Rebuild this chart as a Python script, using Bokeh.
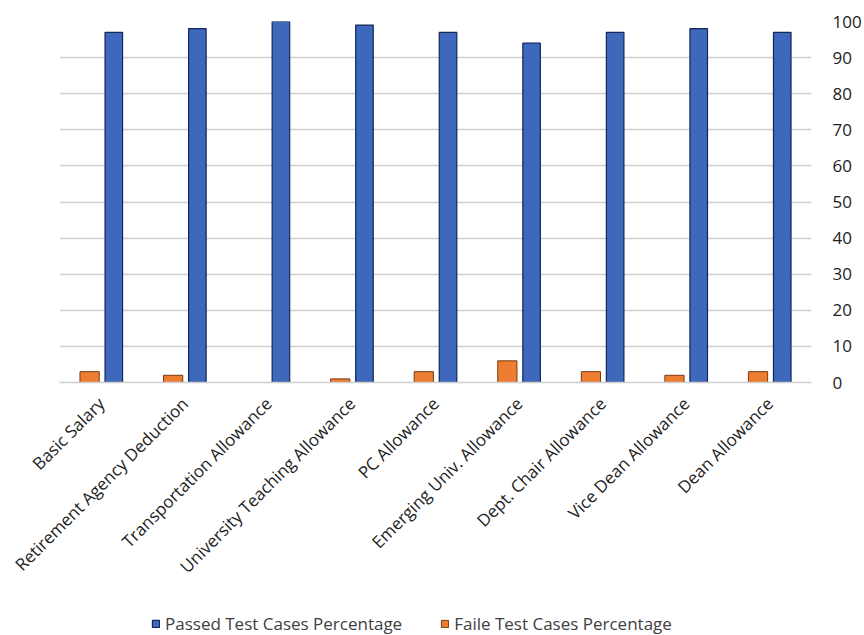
from bokeh.plotting import figure
from bokeh.layouts import column
from bokeh.models import ColumnDataSource, FactorRange, Range1d, Legend, LegendItem, FixedTicker
from bokeh.transform import dodge
from bokeh.embed import file_html
from bokeh.resources import INLINE
import math

categories = ["Basic Salary", "Retirement Agency Deduction", "Transportation Allowance",
              "University Teaching Allowance", "PC Allowance", "Emerging Univ. Allowance",
              "Dept. Chair Allowance", "Vice Dean Allowance", "Dean Allowance"]
passed = [97, 98, 100, 99, 97, 94, 97, 98, 97]
failed = [3, 2, 0, 1, 3, 6, 3, 2, 3]
y_ticks = [0, 10, 20, 30, 40, 50, 60, 70, 80, 90, 100]

FONT = "Open Sans"
TXT = "#404040"
BLUE, BLUE_EDGE = "#3d68bb", "#13275a"
ORANGE, ORANGE_EDGE = "#ed7d31", "#7a3a10"

src = ColumnDataSource(dict(cat=categories, passed=passed, failed=failed))

p = figure(width=864, height=597, x_range=FactorRange(*categories, range_padding=0),
           y_range=Range1d(0, 100), output_backend="svg", toolbar_location=None,
           y_axis_location="right", min_border_left=59, min_border_right=2,
           min_border_top=21, min_border_bottom=215)
p.outline_line_color = None
p.background_fill_color = "white"
p.border_fill_color = "white"

p.vbar(x=dodge("cat", -0.14, range=p.x_range), top="failed", width=0.23, source=src,
       fill_color=ORANGE, line_color=ORANGE_EDGE, line_width=1)
p.vbar(x=dodge("cat", 0.15, range=p.x_range), top="passed", width=0.21, source=src,
       fill_color=BLUE, line_color=BLUE_EDGE, line_width=1.2)

p.xgrid.grid_line_color = None
p.ygrid.grid_line_color = "#cfcfcf"
p.ygrid.grid_line_width = 1.5
p.ygrid.ticker = FixedTicker(ticks=y_ticks)

ya = p.yaxis[0]
ya.ticker = FixedTicker(ticks=y_ticks)
ya.axis_line_color = None
ya.major_tick_line_color = None
ya.minor_tick_line_color = None
ya.major_label_text_font = FONT
ya.major_label_text_font_size = "17px"
ya.major_label_text_color = "#222222"
ya.major_label_standoff = 15

xa = p.xaxis[0]
xa.axis_line_color = "#cfcfcf"
xa.axis_line_width = 1.5
xa.major_tick_line_color = None
xa.minor_tick_line_color = None
xa.major_label_orientation = math.pi / 4
xa.major_label_text_font = FONT
xa.major_label_text_font_size = "17px"
xa.major_label_text_color = "#222222"
xa.major_label_standoff = 12

# legend strip below the chart
lg = figure(width=864, height=38, x_range=Range1d(0, 1), y_range=Range1d(0, 1),
            output_backend="svg", toolbar_location=None, min_border=0,
            x_axis_location=None, y_axis_location=None)
lg.grid.visible = False
lg.outline_line_color = None
lg_p = lg.vbar(x=[-5], top=[-5], bottom=[-6], width=0.1,
               fill_color=BLUE, line_color=BLUE_EDGE, line_width=1.2)
lg_f = lg.vbar(x=[-5], top=[-5], bottom=[-6], width=0.1,
               fill_color=ORANGE, line_color=ORANGE_EDGE, line_width=1)
legend = Legend(items=[LegendItem(label="Passed Test Cases Percentage", renderers=[lg_p]),
                       LegendItem(label="Faile Test Cases Percentage", renderers=[lg_f])],
                orientation="horizontal", location=(92, 0),
                label_text_font=FONT, label_text_font_size="17px", label_text_color=TXT,
                glyph_width=9, glyph_height=9, spacing=38, label_standoff=5,
                border_line_color=None, background_fill_alpha=0, margin=0, padding=2)
lg.add_layout(legend, "center")

layout = column(p, lg, spacing=0)
open("out.html", "w").write(file_html(layout, INLINE))
